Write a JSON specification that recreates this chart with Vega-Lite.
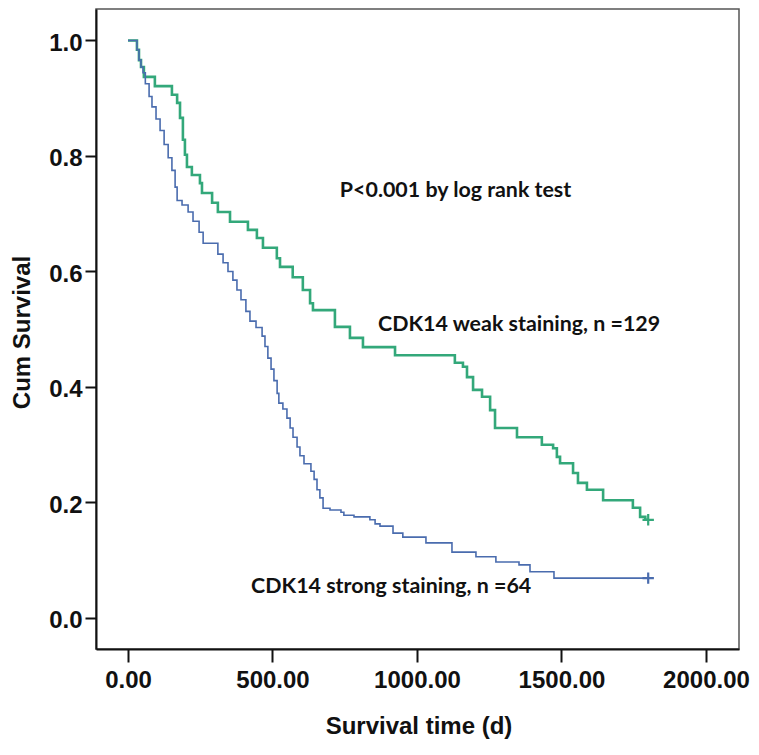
{
  "$schema": "https://vega.github.io/schema/vega-lite/v6.json",
  "width": 643,
  "height": 640,
  "autosize": {"type": "none"},
  "padding": {"left": 96, "top": 9, "right": 20, "bottom": 106},
  "background": "white",
  "config": {
    "view": {"stroke": "#555555", "strokeWidth": 1.5},
    "font": "Liberation Sans"
  },
  "datasets": {
    "curves": [
      {"group": "weak", "t": 0, "s": 1.0},
      {"group": "weak", "t": 31, "s": 0.984},
      {"group": "weak", "t": 38, "s": 0.966},
      {"group": "weak", "t": 45, "s": 0.954},
      {"group": "weak", "t": 55, "s": 0.937},
      {"group": "weak", "t": 93, "s": 0.921},
      {"group": "weak", "t": 152, "s": 0.906},
      {"group": "weak", "t": 170, "s": 0.892},
      {"group": "weak", "t": 180, "s": 0.866},
      {"group": "weak", "t": 190, "s": 0.828},
      {"group": "weak", "t": 197, "s": 0.802},
      {"group": "weak", "t": 204, "s": 0.781},
      {"group": "weak", "t": 221, "s": 0.767},
      {"group": "weak", "t": 249, "s": 0.753},
      {"group": "weak", "t": 256, "s": 0.736},
      {"group": "weak", "t": 291, "s": 0.719},
      {"group": "weak", "t": 311, "s": 0.703},
      {"group": "weak", "t": 353, "s": 0.686},
      {"group": "weak", "t": 415, "s": 0.672},
      {"group": "weak", "t": 446, "s": 0.658},
      {"group": "weak", "t": 467, "s": 0.641},
      {"group": "weak", "t": 515, "s": 0.623},
      {"group": "weak", "t": 526, "s": 0.608},
      {"group": "weak", "t": 570, "s": 0.590},
      {"group": "weak", "t": 605, "s": 0.568},
      {"group": "weak", "t": 630, "s": 0.545},
      {"group": "weak", "t": 640, "s": 0.533},
      {"group": "weak", "t": 716, "s": 0.504},
      {"group": "weak", "t": 768, "s": 0.485},
      {"group": "weak", "t": 813, "s": 0.469},
      {"group": "weak", "t": 924, "s": 0.455},
      {"group": "weak", "t": 1131, "s": 0.442},
      {"group": "weak", "t": 1159, "s": 0.435},
      {"group": "weak", "t": 1173, "s": 0.417},
      {"group": "weak", "t": 1194, "s": 0.395},
      {"group": "weak", "t": 1225, "s": 0.383},
      {"group": "weak", "t": 1253, "s": 0.360},
      {"group": "weak", "t": 1270, "s": 0.329},
      {"group": "weak", "t": 1346, "s": 0.313},
      {"group": "weak", "t": 1432, "s": 0.300},
      {"group": "weak", "t": 1471, "s": 0.294},
      {"group": "weak", "t": 1484, "s": 0.279},
      {"group": "weak", "t": 1495, "s": 0.268},
      {"group": "weak", "t": 1540, "s": 0.251},
      {"group": "weak", "t": 1557, "s": 0.234},
      {"group": "weak", "t": 1588, "s": 0.222},
      {"group": "weak", "t": 1644, "s": 0.204},
      {"group": "weak", "t": 1747, "s": 0.191},
      {"group": "weak", "t": 1772, "s": 0.175},
      {"group": "weak", "t": 1790, "s": 0.170},
      {"group": "weak", "t": 1800, "s": 0.170},
      {"group": "strong", "t": 0, "s": 1.0},
      {"group": "strong", "t": 31, "s": 0.984},
      {"group": "strong", "t": 38, "s": 0.966},
      {"group": "strong", "t": 45, "s": 0.954},
      {"group": "strong", "t": 52, "s": 0.944},
      {"group": "strong", "t": 60, "s": 0.925},
      {"group": "strong", "t": 73, "s": 0.903},
      {"group": "strong", "t": 83, "s": 0.885},
      {"group": "strong", "t": 97, "s": 0.864},
      {"group": "strong", "t": 111, "s": 0.844},
      {"group": "strong", "t": 125, "s": 0.820},
      {"group": "strong", "t": 139, "s": 0.797},
      {"group": "strong", "t": 152, "s": 0.775},
      {"group": "strong", "t": 163, "s": 0.746},
      {"group": "strong", "t": 170, "s": 0.723},
      {"group": "strong", "t": 187, "s": 0.715},
      {"group": "strong", "t": 208, "s": 0.703},
      {"group": "strong", "t": 225, "s": 0.687},
      {"group": "strong", "t": 246, "s": 0.668},
      {"group": "strong", "t": 260, "s": 0.649},
      {"group": "strong", "t": 311, "s": 0.630},
      {"group": "strong", "t": 329, "s": 0.615},
      {"group": "strong", "t": 346, "s": 0.600},
      {"group": "strong", "t": 363, "s": 0.585},
      {"group": "strong", "t": 377, "s": 0.568},
      {"group": "strong", "t": 391, "s": 0.551},
      {"group": "strong", "t": 408, "s": 0.531},
      {"group": "strong", "t": 422, "s": 0.514},
      {"group": "strong", "t": 443, "s": 0.503},
      {"group": "strong", "t": 464, "s": 0.488},
      {"group": "strong", "t": 474, "s": 0.470},
      {"group": "strong", "t": 484, "s": 0.450},
      {"group": "strong", "t": 495, "s": 0.431},
      {"group": "strong", "t": 505, "s": 0.411},
      {"group": "strong", "t": 516, "s": 0.389},
      {"group": "strong", "t": 522, "s": 0.372},
      {"group": "strong", "t": 536, "s": 0.362},
      {"group": "strong", "t": 550, "s": 0.346},
      {"group": "strong", "t": 561, "s": 0.329},
      {"group": "strong", "t": 571, "s": 0.313},
      {"group": "strong", "t": 585, "s": 0.296},
      {"group": "strong", "t": 595, "s": 0.281},
      {"group": "strong", "t": 609, "s": 0.267},
      {"group": "strong", "t": 633, "s": 0.254},
      {"group": "strong", "t": 644, "s": 0.240},
      {"group": "strong", "t": 654, "s": 0.222},
      {"group": "strong", "t": 664, "s": 0.208},
      {"group": "strong", "t": 675, "s": 0.190},
      {"group": "strong", "t": 699, "s": 0.187},
      {"group": "strong", "t": 737, "s": 0.183},
      {"group": "strong", "t": 747, "s": 0.178},
      {"group": "strong", "t": 782, "s": 0.175},
      {"group": "strong", "t": 837, "s": 0.170},
      {"group": "strong", "t": 855, "s": 0.163},
      {"group": "strong", "t": 872, "s": 0.159},
      {"group": "strong", "t": 917, "s": 0.147},
      {"group": "strong", "t": 951, "s": 0.140},
      {"group": "strong", "t": 1031, "s": 0.130},
      {"group": "strong", "t": 1121, "s": 0.114},
      {"group": "strong", "t": 1204, "s": 0.106},
      {"group": "strong", "t": 1273, "s": 0.097},
      {"group": "strong", "t": 1353, "s": 0.092},
      {"group": "strong", "t": 1391, "s": 0.080},
      {"group": "strong", "t": 1474, "s": 0.069},
      {"group": "strong", "t": 1800, "s": 0.069}
    ],
    "censor": [
      {"group": "weak", "t": 1800, "s": 0.170},
      {"group": "strong", "t": 1800, "s": 0.069}
    ],
    "notes": [
      {"label": "P<0.001 by log rank test", "t": 733, "s": 0.729},
      {"label": "CDK14 weak staining, n =129", "t": 865, "s": 0.497},
      {"label": "CDK14 strong staining, n =64", "t": 426, "s": 0.043}
    ]
  },
  "layer": [
    {
      "data": {"name": "curves"},
      "mark": {"type": "line", "interpolate": "step-after", "strokeJoin": "miter"},
      "encoding": {
        "x": {
          "field": "t", "type": "quantitative",
          "scale": {"domain": [-110.7, 2114.2], "nice": false, "zero": false},
          "axis": {
            "title": "Survival time (d)",
            "values": [0, 500, 1000, 1500, 2000],
            "format": ".2f",
            "grid": false,
            "domainColor": "#111111", "domainWidth": 2,
            "tickColor": "#111111", "tickWidth": 2, "tickSize": 13,
            "labelFontSize": 24, "labelColor": "#111111", "labelPadding": 6,
            "labelFont": "Liberation Sans", "labelFontWeight": "bold",
            "titleFont": "Liberation Sans", "titleFontSize": 24, "titleFontWeight": "bold",
            "titleColor": "#111111",
            "titleX": 322.5, "titleY": 84, "titleBaseline": "alphabetic", "titleAlign": "center"
          }
        },
        "y": {
          "field": "s", "type": "quantitative",
          "scale": {"domain": [-0.0537, 1.0545], "nice": false, "zero": false},
          "axis": {
            "title": "Cum Survival",
            "values": [0, 0.2, 0.4, 0.6, 0.8, 1.0],
            "format": ".1f",
            "grid": false,
            "domainColor": "#111111", "domainWidth": 2,
            "tickColor": "#111111", "tickWidth": 2, "tickSize": 11,
            "labelFontSize": 24, "labelColor": "#111111", "labelPadding": 3,
            "labelFont": "Liberation Sans", "labelFontWeight": "bold", "labelOffset": 3,
            "titleFont": "Liberation Sans", "titleFontSize": 24, "titleFontWeight": "bold",
            "titleColor": "#111111",
            "titleAngle": 270, "titleX": -67, "titleY": 323,
            "titleBaseline": "alphabetic", "titleAlign": "center"
          }
        },
        "color": {
          "field": "group", "type": "nominal",
          "scale": {"domain": ["weak", "strong"], "range": ["#33a87a", "#4a6cae"]},
          "legend": null
        },
        "strokeWidth": {
          "field": "group", "type": "nominal",
          "scale": {"domain": ["weak", "strong"], "range": [2.6, 1.6]},
          "legend": null
        }
      }
    },
    {
      "data": {"name": "censor"},
      "mark": {"type": "point", "shape": "M-1,0L1,0M0,-1L0,1", "filled": false, "size": 130, "strokeWidth": 2.2, "opacity": 1},
      "encoding": {
        "x": {"field": "t", "type": "quantitative"},
        "y": {"field": "s", "type": "quantitative"},
        "color": {
          "field": "group", "type": "nominal",
          "scale": {"domain": ["weak", "strong"], "range": ["#33a87a", "#4a6cae"]},
          "legend": null
        }
      }
    },
    {
      "data": {"name": "notes"},
      "mark": {"type": "text", "align": "left", "baseline": "alphabetic", "font": "Lato", "fontWeight": "bold", "fontSize": 21.4, "color": "#111111"},
      "encoding": {
        "x": {"field": "t", "type": "quantitative"},
        "y": {"field": "s", "type": "quantitative"},
        "text": {"field": "label"}
      }
    }
  ]
}
